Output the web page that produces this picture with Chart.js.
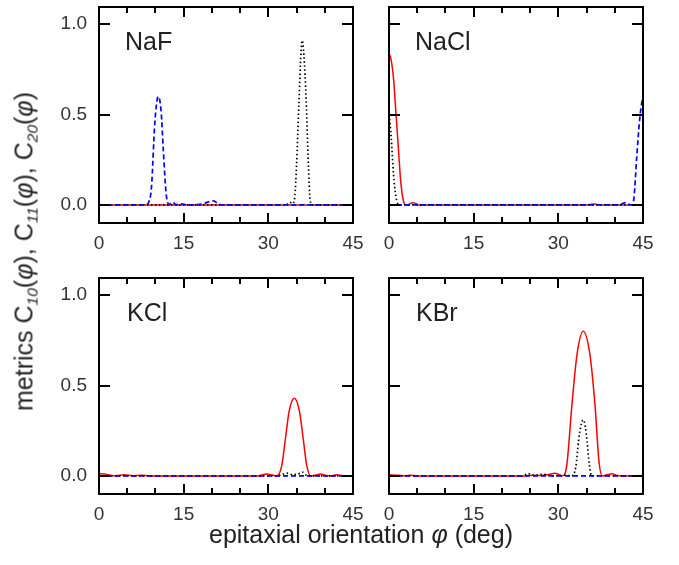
<!DOCTYPE html>
<html><head><meta charset="utf-8">
<script src="https://cdn.jsdelivr.net/npm/chart.js@4.4.1/dist/chart.umd.min.js"></script>
<style>
html,body{margin:0;padding:0;background:#fff;}
#wrap{position:relative;width:679px;height:565px;overflow:hidden;font-family:"Liberation Sans",Arial,sans-serif;background:#fff;}
canvas{position:absolute;left:0;top:0;}
.lbl{position:absolute;font-size:25px;line-height:25px;color:#222;white-space:nowrap;}
.xt{position:absolute;left:0;width:722px;text-align:center;font-size:25px;line-height:25px;color:#222;white-space:nowrap;}
.yt{position:absolute;width:400px;text-align:center;font-size:25px;line-height:25px;color:#222;white-space:nowrap;transform:rotate(-90deg);transform-origin:50% 50%;}
sub{font-size:0.62em;vertical-align:-0.35em;line-height:0;}
</style></head>
<body>
<div id="wrap">
  <div class="lbl" style="left:125px;top:29px;">NaF</div>
  <div class="lbl" style="left:415px;top:29px;">NaCl</div>
  <div class="lbl" style="left:127px;top:300px;">KCl</div>
  <div class="lbl" style="left:416px;top:300px;">KBr</div>
  <div class="xt" style="top:522px;">epitaxial orientation <i>φ</i> (deg)</div>
  <div class="yt" style="left:-176px;top:239px;">metrics C<sub><i>10</i></sub>(<i>φ</i>), C<sub><i>11</i></sub>(<i>φ</i>), C<sub><i>20</i></sub>(<i>φ</i>)</div>
</div>
<script>
// ---- data (x = φ in deg, y = metric value) ----
const xMajor = [0, 15, 30, 45];
const xMinor = [5, 10, 20, 25, 35, 40];
const yTicks = [0, 0.5, 1.0];

// NaF
const nafC10 = [[0,0],[45,0]];
const nafC11 = [[0,0],[33.2,0],[33.8,0.015],[34.3,0.008],[34.7,0.05],[35.0,0.22],[35.4,0.55],[35.8,0.85],[36.0,0.91],[36.3,0.83],[36.7,0.58],[37.1,0.22],[37.4,0.03],[37.8,0],[45,0]];
const nafC20 = [[0,0],[8.2,0],[8.8,0.015],[9.3,0.1],[9.9,0.46],[10.5,0.6],[11.0,0.52],[11.4,0.3],[11.9,0.06],[12.4,0.003],[13.0,0.015],[13.7,0.002],[14.6,0.006],[15.6,0],[18.2,0.004],[19.5,0.018],[20.3,0.022],[21.1,0.006],[22,0],[45,0]];
// NaCl
const naclC10 = [[0,0.835],[0.3,0.815],[0.8,0.70],[1.25,0.5],[1.65,0.32],[2.05,0.14],[2.5,0.03],[3.0,0],[3.5,0.003],[4.1,0.012],[4.6,0.01],[5.3,0],[35,0],[36.2,0.005],[37.5,0],[45,0]];
const naclC11 = [[0,0.52],[0.4,0.37],[0.8,0.17],[1.2,0.05],[1.6,0.005],[2.0,0],[45,0]];
const naclC20 = [[0,0],[40.6,0],[41.3,0.006],[41.9,0.013],[42.5,0.004],[43.0,0],[43.4,0.04],[43.9,0.27],[44.4,0.47],[44.8,0.57],[45,0.6]];
// KCl
const kclC10 = [[0,0.013],[1,0.01],[2,0.004],[3,0.001],[4.5,0.006],[6,0.001],[7.5,0.004],[9,0],[28,0],[29.7,0.01],[30.7,0.005],[31.5,0],[32.4,0.06],[33.0,0.2],[33.7,0.36],[34.6,0.43],[35.5,0.36],[36.2,0.2],[36.8,0.06],[37.5,0],[38.4,0.004],[39.2,0.01],[40.2,0.003],[41.1,0.001],[42.1,0.007],[43.3,0],[45,0.002]];
const kclC11 = [[0,0],[31.6,0],[32.4,0.008],[33.3,0.015],[34.2,0.008],[35.2,0.01],[36.1,0.02],[36.8,0.002],[37.5,0],[45,0]];
const kclC20 = [[0,0],[45,0]];
// KBr
const kbrC10 = [[0,0.006],[1.5,0.004],[3,0],[3.8,0.004],[5,0],[24,0],[25.5,0.004],[27,0.002],[28.3,0.008],[29.4,0.015],[30.1,0.008],[30.7,0],[31.5,0.06],[32.4,0.39],[33.3,0.67],[34.4,0.80],[35.6,0.67],[36.5,0.39],[37.2,0.08],[37.8,0],[38.6,0.006],[39.5,0.012],[40.4,0.003],[41.5,0],[45,0.002]];
const kbrC11 = [[0,0],[23.5,0],[24.7,0.013],[25.6,0.004],[26.5,0.006],[27.3,0.01],[28.2,0.003],[29,0],[30.5,0.002],[31.3,0.005],[32.3,0],[33.1,0.05],[33.6,0.2],[34.1,0.29],[34.4,0.31],[34.8,0.27],[35.1,0.19],[35.5,0.06],[35.9,0],[45,0]];
const kbrC20 = [[0,0],[45,0]];

// ---- layout ----
const FAMILY = '"Liberation Sans", Arial, sans-serif';
const PW = 254, PH = 216, AX = 40, AY = 50;
const panels = [
  {left:99,  top:7,   c10:nafC10,  c11:nafC11,  c20:nafC20,  showY:true},
  {left:389, top:7,   c10:naclC10, c11:naclC11, c20:naclC20, showY:false},
  {left:99,  top:278, c10:kclC10,  c11:kclC11,  c20:kclC20,  showY:true},
  {left:389, top:278, c10:kbrC10,  c11:kbrC11,  c20:kbrC20,  showY:false}
];

const framePlugin = {
  id: 'frame',
  afterDraw(c) {
    const {ctx, chartArea: a, scales: {x, y}} = c;
    ctx.save();
    ctx.strokeStyle = '#000';
    ctx.lineWidth = 2;
    ctx.beginPath();
    xMajor.concat(xMinor).forEach(v => {
      const px = Math.round(x.getPixelForValue(v));
      const len = xMajor.includes(v) ? 10 : 6;
      ctx.moveTo(px, a.bottom); ctx.lineTo(px, a.bottom - len);
      ctx.moveTo(px, a.top); ctx.lineTo(px, a.top + len);
    });
    yTicks.forEach(v => {
      const py = Math.round(y.getPixelForValue(v));
      ctx.moveTo(a.left, py); ctx.lineTo(a.left + 11, py);
      ctx.moveTo(a.right, py); ctx.lineTo(a.right - 11, py);
    });
    ctx.stroke();
    ctx.strokeRect(a.left, a.top, a.right - a.left, a.bottom - a.top);
    ctx.restore();
  }
};

function zeroPad(s) { s.paddingLeft = 0; s.paddingRight = 0; s.paddingTop = 0; s.paddingBottom = 0; }

const wrap = document.getElementById('wrap');
panels.forEach(p => {
  const cv = document.createElement('canvas');
  cv.width = 679; cv.height = 565;
  wrap.insertBefore(cv, wrap.firstChild);
  const line = (data, color, w, dash) => ({
    data, borderColor: color, borderWidth: w, borderDash: dash, pointRadius: 0,
    fill: false, cubicInterpolationMode: 'monotone'
  });
  new Chart(cv, {
    type: 'line',
    data: { datasets: [
      line(p.c20, '#0000ff', 1.7, [5, 3]),
      line(p.c11, '#000000', 1.7, [1.5, 2.5]),
      line(p.c10, '#ff0000', 1.5, [])
    ]},
    options: {
      responsive: false, animation: false, devicePixelRatio: 1,
      layout: { padding: { left: p.left - AY, top: p.top, right: 679 - p.left - PW, bottom: 565 - p.top - PH - AX } },
      plugins: { legend: { display: false }, tooltip: { enabled: false } },
      scales: {
        x: {
          type: 'linear', min: 0, max: 45,
          grid: { display: false, drawTicks: false }, border: { display: false },
          afterBuildTicks: s => { s.ticks = xMajor.map(v => ({ value: v })); },
          ticks: { padding: 9, font: { size: 19, family: FAMILY }, color: '#333', maxRotation: 0, autoSkip: false,
                   callback: v => String(v) },
          afterFit: s => { s.height = AX; zeroPad(s); }
        },
        y: {
          type: 'linear', min: -0.1, max: 1.095,
          grid: { display: false, drawTicks: false }, border: { display: false },
          afterBuildTicks: s => { s.ticks = yTicks.map(v => ({ value: v })); },
          ticks: { display: p.showY, padding: 12, font: { size: 19, family: FAMILY }, color: '#333',
                   callback: v => Number(v).toFixed(1) },
          afterFit: s => { s.width = AY; zeroPad(s); }
        }
      }
    },
    plugins: [framePlugin]
  });
});
</script>
</body></html>
